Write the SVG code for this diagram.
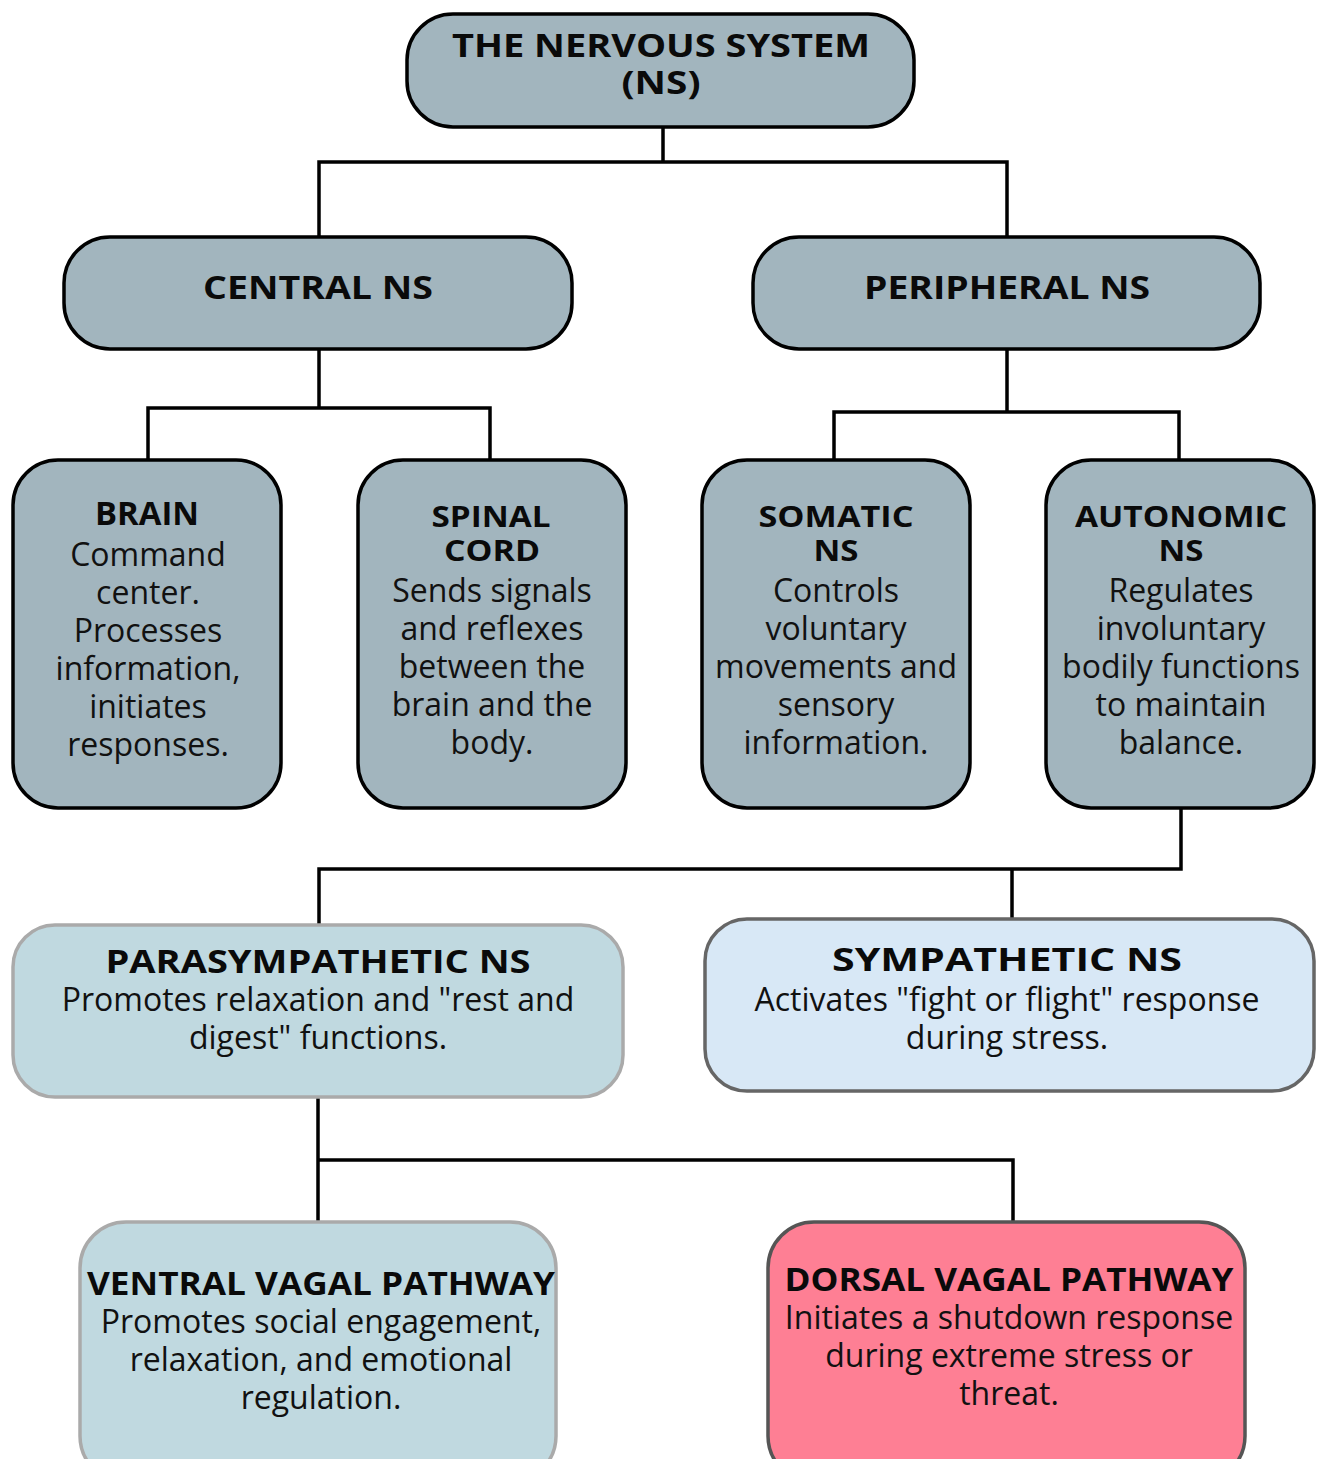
<svg xmlns="http://www.w3.org/2000/svg" width="1317" height="1459" viewBox="0 0 1317 1459">
<style>
.n{fill:#a2b5be;stroke:#000;stroke-width:3.5}
.p{fill:#c0d9e0;stroke:#aaaaaa;stroke-width:3.5}
.s{fill:#d8e8f6;stroke:#666666;stroke-width:3.5}
.d{fill:#fe7f94;stroke:#555555;stroke-width:3.5}
text{font-family:"Open Sans","Liberation Sans",sans-serif;font-weight:400;font-size:32px;fill:#111;text-anchor:middle}
.t{font-weight:700;font-size:32px;fill:#0a0a0a}
.t2{font-weight:700;font-size:29px;fill:#0a0a0a}
.c{fill:none;stroke:#000;stroke-width:3.5}
</style>
<rect width="1317" height="1459" fill="#fff"/>
<g id="connectors">
<path class="c" d="M663 127V162M319 237V162H1007V237"/>
<path class="c" d="M319 349V408M148 460V408H490V460"/>
<path class="c" d="M1007 349V412M834 460V412H1179V460"/>
<path class="c" d="M1181 808V869H319V925M1012 869V920"/>
<path class="c" d="M318 1097V1222M318 1160H1013V1222"/>
</g>
<g id="ns">
<rect class="n" x="407" y="14" width="507" height="113" rx="46"/>
<text><tspan class="t" x="661" y="57" textLength="418" lengthAdjust="spacingAndGlyphs">THE NERVOUS SYSTEM</tspan><tspan class="t" x="661" y="94" textLength="79" lengthAdjust="spacingAndGlyphs">(NS)</tspan></text>
</g>
<g id="central">
<rect class="n" x="64" y="237" width="508" height="112" rx="46"/>
<text class="t" x="318" y="299" textLength="230" lengthAdjust="spacingAndGlyphs">CENTRAL NS</text>
</g>
<g id="peripheral">
<rect class="n" x="753" y="237" width="507" height="112" rx="46"/>
<text class="t" x="1007" y="299" textLength="286" lengthAdjust="spacingAndGlyphs">PERIPHERAL NS</text>
</g>
<g id="brain">
<rect class="n" x="13" y="460" width="268" height="348" rx="45"/>
<text><tspan class="t" x="147" y="525" textLength="104" lengthAdjust="spacingAndGlyphs">BRAIN</tspan><tspan x="148" y="566">Command</tspan><tspan x="148" y="604">center.</tspan><tspan x="148" y="642">Processes</tspan><tspan x="148" y="680">information,</tspan><tspan x="148" y="718">initiates</tspan><tspan x="148" y="756">responses.</tspan></text>
</g>
<g id="spinal">
<rect class="n" x="358" y="460" width="268" height="348" rx="45"/>
<text><tspan class="t2" x="491" y="527" textLength="119" lengthAdjust="spacingAndGlyphs">SPINAL</tspan><tspan class="t2" x="492" y="561" textLength="96" lengthAdjust="spacingAndGlyphs">CORD</tspan><tspan x="492" y="602">Sends signals</tspan><tspan x="492" y="640">and reflexes</tspan><tspan x="492" y="678">between the</tspan><tspan x="492" y="716">brain and the</tspan><tspan x="492" y="754">body.</tspan></text>
</g>
<g id="somatic">
<rect class="n" x="702" y="460" width="268" height="348" rx="45"/>
<text><tspan class="t2" x="836" y="527" textLength="155" lengthAdjust="spacingAndGlyphs">SOMATIC</tspan><tspan class="t2" x="836" y="561" textLength="45" lengthAdjust="spacingAndGlyphs">NS</tspan><tspan x="836" y="602">Controls</tspan><tspan x="836" y="640">voluntary</tspan><tspan x="836" y="678">movements and</tspan><tspan x="836" y="716">sensory</tspan><tspan x="836" y="754">information.</tspan></text>
</g>
<g id="autonomic">
<rect class="n" x="1046" y="460" width="268" height="348" rx="45"/>
<text><tspan class="t2" x="1181" y="527" textLength="212" lengthAdjust="spacingAndGlyphs">AUTONOMIC</tspan><tspan class="t2" x="1181" y="561" textLength="45" lengthAdjust="spacingAndGlyphs">NS</tspan><tspan x="1181" y="602">Regulates</tspan><tspan x="1181" y="640">involuntary</tspan><tspan x="1181" y="678">bodily functions</tspan><tspan x="1181" y="716">to maintain</tspan><tspan x="1181" y="754">balance.</tspan></text>
</g>
<g id="parasympathetic">
<rect class="p" x="13" y="925" width="610" height="172" rx="42"/>
<text><tspan class="t" x="318" y="973" textLength="425" lengthAdjust="spacingAndGlyphs">PARASYMPATHETIC NS</tspan><tspan x="318" y="1011">Promotes relaxation and "rest and</tspan><tspan x="318" y="1049">digest" functions.</tspan></text>
</g>
<g id="sympathetic">
<rect class="s" x="705" y="919" width="609" height="172" rx="42"/>
<text><tspan class="t" x="1007" y="971" textLength="350" lengthAdjust="spacingAndGlyphs">SYMPATHETIC NS</tspan><tspan x="1007" y="1011">Activates "fight or flight" response</tspan><tspan x="1007" y="1049">during stress.</tspan></text>
</g>
<g id="ventral">
<rect class="p" x="80" y="1222" width="476" height="260" rx="46"/>
<text><tspan class="t" x="321" y="1295" textLength="468" lengthAdjust="spacingAndGlyphs">VENTRAL VAGAL PATHWAY</tspan><tspan x="321" y="1333">Promotes social engagement,</tspan><tspan x="321" y="1371">relaxation, and emotional</tspan><tspan x="321" y="1409">regulation.</tspan></text>
</g>
<g id="dorsal">
<rect class="d" x="768" y="1222" width="477" height="260" rx="46"/>
<text><tspan class="t" x="1009" y="1291" textLength="449" lengthAdjust="spacingAndGlyphs">DORSAL VAGAL PATHWAY</tspan><tspan x="1009" y="1329">Initiates a shutdown response</tspan><tspan x="1009" y="1367">during extreme stress or</tspan><tspan x="1009" y="1405">threat.</tspan></text>
</g>
</svg>
